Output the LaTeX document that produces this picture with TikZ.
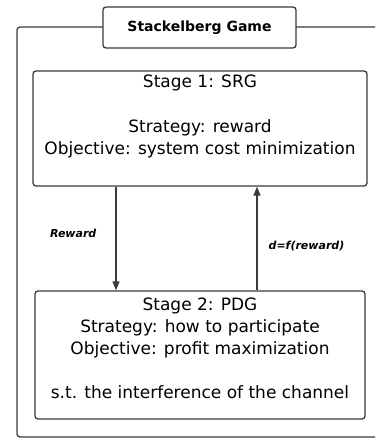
\documentclass[tikz,border=0pt]{standalone}
\usepackage{fontspec}
\setmainfont{DejaVu Sans}
\usepackage{tikz}
\usetikzlibrary{arrows.meta,positioning}

\definecolor{framegray}{HTML}{3A3A3A}

\begin{document}
\begin{tikzpicture}[x=1pt, y=-1pt, >={Triangle[length=9pt,width=7pt]},
    box/.style={draw=framegray, line width=1.3pt, rounded corners=3pt, inner sep=0pt},
    txt/.style={font=\fontsize{17}{22}\selectfont, align=center, inner sep=0pt},
    lbl/.style={font=\fontsize{11}{13}\selectfont\bfseries\itshape, inner sep=0pt},
    arr/.style={->, draw=framegray, line width=1.3pt}]

  \useasboundingbox (0,0) rectangle (375,447);
  \clip (0,0) rectangle (375,447);

  % ── Outer frame (runs past the right edge) ────────────────────────────
  \draw[framegray, line width=1.3pt, rounded corners=3pt]
    (390,27) -- (17,27) -- (17,437) -- (390,437);

  % ── Title ─────────────────────────────────────────────────────────────
  \node[box, fill=white, minimum width=193pt, minimum height=41pt,
        font=\fontsize{14}{16}\selectfont\bfseries] (title) at (199.5,27.5)
    {Stackelberg Game};

  % ── Stage 1 ───────────────────────────────────────────────────────────
  \node[box, minimum width=334pt, minimum height=115pt] (stageA) at (200,128.5) {};
  \node[txt, anchor=north] (stageAtext) at ([yshift=-4pt]stageA.north)
    {Stage 1: SRG\\[23pt] Strategy: reward\\ Objective: system cost minimization};

  % ── Stage 2 ───────────────────────────────────────────────────────────
  \node[box, minimum width=330pt, minimum height=128pt] (stageB) at (200,355) {};
  \node[txt, anchor=north] (stageBtext) at ([yshift=-7pt]stageB.north)
    {Stage 2: PDG\\ Strategy: how to participate\\ Objective: profit maximization\\[22pt]
     s.t. the interference of the channel};

  % ── Connectors ────────────────────────────────────────────────────────
  \draw[arr] ([xshift=-84pt]stageA.south) -- ([xshift=-84pt]stageB.north)
    node[lbl, pos=0.45, left=19pt] (rewardlbl) {Reward};
  \draw[arr] ([xshift=57pt]stageB.north) -- ([xshift=57pt]stageA.south)
    node[lbl, pos=0.43, right=11pt] (demandlbl) {d=f(reward)};

\end{tikzpicture}
\end{document}
